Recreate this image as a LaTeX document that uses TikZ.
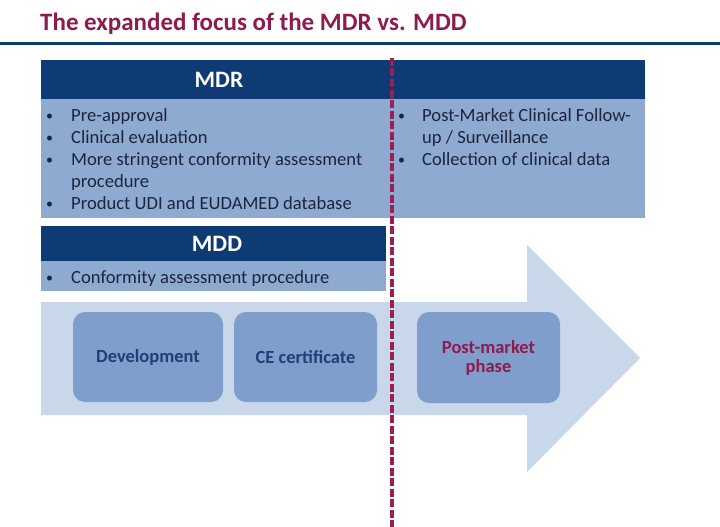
\documentclass[tikz,border=0pt]{standalone}
\usepackage{fontspec}
\setmainfont{Carlito}
\definecolor{navy}{HTML}{0F3B75}
\definecolor{bodyblue}{HTML}{8FAAD0}
\definecolor{arrowblue}{HTML}{C8D7EA}
\definecolor{boxblue}{HTML}{7F9ECB}
\definecolor{maroon}{HTML}{8E1B4F}
\definecolor{dashcol}{HTML}{9A2054}
\definecolor{txt}{HTML}{1C2440}
\definecolor{boxtxt}{HTML}{1F3F7A}
\begin{document}
\begin{tikzpicture}[x=1pt,y=-1pt,
  hdr/.style={fill=navy,draw=none},
  item/.style={anchor=base west,inner sep=0pt,font=\fontsize{18.6}{22}\selectfont,text=txt},
  bul/.style={anchor=base west,inner sep=0pt,font=\fontsize{14}{18}\selectfont,text=txt},
  hdrtxt/.style={text=white,font=\bfseries\fontsize{23.5}{28}\selectfont},
  phase/.style={fill=boxblue,draw=none,rounded corners=12pt},
  phasetxt/.style={font=\bfseries\fontsize{18.5}{21}\selectfont,align=center}
]
\useasboundingbox (0,0) rectangle (720,527);
\fill[white] (0,0) rectangle (720,527);
% title
\node[anchor=base west,inner sep=0pt,text=maroon,font=\bfseries\fontsize{25}{30}\selectfont] (title) at (40,31) {The expanded focus of the MDR vs. MDD};
\draw[navy,line width=2.5pt] (0,43.5) -- (720,43.5);
% MDR
\fill[bodyblue] (41,99) rectangle (645,218);
\fill[hdr] (41,60) rectangle (645,99);
\node[hdrtxt] (mdr) at (219,80) {MDR};
\node[bul] (b1) at (46,120) {\textbullet};
\node[item] (t1) at (71,121) {Pre-approval};
\node[bul] (b2) at (46,142) {\textbullet};
\node[item] (t2) at (71,143) {Clinical evaluation};
\node[bul] (b3) at (46,164) {\textbullet};
\node[item] (t3) at (71,165) {More stringent conformity assessment};
\node[item] (t3b) at (71,187) {procedure};
\node[bul] (b4) at (46,208) {\textbullet};
\node[item] (t4) at (71,209) {Product UDI and EUDAMED database};
\node[bul] (r1) at (398,120) {\textbullet};
\node[item] (rt1) at (422,121) {Post-Market Clinical Follow-};
\node[item] (rt1b) at (422,143) {up / Surveillance};
\node[bul] (r2) at (398,164) {\textbullet};
\node[item] (rt2) at (422,165) {Collection of clinical data};
% MDD
\fill[bodyblue] (41,261) rectangle (386,291);
\fill[hdr] (41,226) rectangle (386,261);
\node[hdrtxt] (mdd) at (217,244) {MDD};
\node[bul] (m1) at (46,282) {\textbullet};
\node[item] (mt1) at (71,283) {Conformity assessment procedure};
% arrow
\fill[arrowblue] (41,302) -- (527,302) -- (527,245) -- (640,358) -- (527,472) -- (527,415) -- (41,415) -- cycle;
\node[phase,minimum width=150pt,minimum height=90pt] (dev) at (148,357) {};
\node[phasetxt,text=boxtxt] at (dev.center) {Development};
\node[phase,minimum width=143pt,minimum height=90pt] (ce) at (305.5,357) {};
\node[phasetxt,text=boxtxt] at (ce.center) {CE certificate};
\node[phase,minimum width=143pt,minimum height=91pt] (pm) at (488.5,357.5) {};
\node[phasetxt,text=maroon] at (pm.center) {Post-market\\[-2pt]phase};
% dashed divider
\coordinate (dtop) at (392,58);
\coordinate (dbot) at (392,527);
\draw[dashcol,line width=3.5pt,dash pattern=on 8pt off 2.5pt] (dtop) -- (dbot);
\end{tikzpicture}
\end{document}
